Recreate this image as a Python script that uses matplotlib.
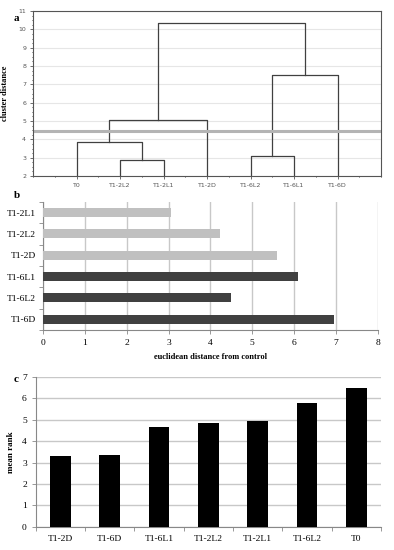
import numpy as np
import matplotlib.pyplot as plt

# panel a: dendrogram
leaves = ["T0", "T1-2L2", "T1-2L1", "T1-2D", "T1-6L2", "T1-6L1", "T1-6D"]
# merges: (left node, right node, height); new nodes numbered after the leaves
merges = [(1, 2, 2.85), (0, 7, 3.88), (8, 3, 5.05), (4, 5, 3.1), (10, 6, 7.5), (9, 11, 10.35)]
cut_height = 4.45

# panel b
b_labels = ["T1-2L1", "T1-2L2", "T1-2D", "T1-6L1", "T1-6L2", "T1-6D"]
b_values = [3.05, 4.22, 5.58, 6.1, 4.5, 6.95]
b_colors = ["#c0c0c0", "#c0c0c0", "#c0c0c0", "#404040", "#404040", "#404040"]

# panel c
c_labels = ["T1-2D", "T1-6D", "T1-6L1", "T1-2L2", "T1-2L1", "T1-6L2", "T0"]
c_values = [3.33, 3.36, 4.65, 4.85, 4.95, 5.8, 6.5]

serif = "Liberation Serif"
fig = plt.figure(figsize=(3.94, 5.5), dpi=100)

# --- a ---
ax = fig.add_axes([0.084, 0.68, 0.883, 0.30])
xs = {i: i + 1 for i in range(len(leaves))}
ys = {i: 2.0 for i in range(len(leaves))}
for k, (l, r, h) in enumerate(merges):
    ax.plot([xs[l], xs[l], xs[r], xs[r]], [ys[l], h, h, ys[r]], color="#404040", lw=0.9)
    node = len(leaves) + k
    xs[node] = (xs[l] + xs[r]) / 2
    ys[node] = h
ax.axhline(cut_height, color="#b4b4b4", lw=2.2)
ax.set_xlim(0, 8)
ax.set_ylim(2, 11)
ax.set_yticks(range(2, 12))
ax.set_yticks(np.arange(2, 11.01, 0.25), minor=True)
ax.set_xticks(range(1, 8))
ax.set_xticklabels(leaves)
ax.set_xticks(np.arange(0, 8.01, 0.5), minor=True)
ax.grid(axis="y", color="#e6e6e6", lw=0.8)
ax.set_axisbelow(True)
ax.tick_params(labelsize=4.5, length=2, width=0.6, pad=3, colors="#555555")
ax.tick_params(which="minor", length=1, width=0.5)
for s in ax.spines.values():
    s.set_linewidth(0.8)
    s.set_color("#555555")
ax.set_ylabel("cluster distance", family=serif, fontsize=6, fontweight="bold", labelpad=7)
fig.text(0.035, 0.975, "a", family=serif, fontsize=8, fontweight="bold", va="top")

# --- b ---
ax = fig.add_axes([0.109, 0.40, 0.85, 0.233])
pos = np.arange(len(b_labels))
ax.barh(pos, b_values, height=0.42, color=b_colors, zorder=3)
ax.set_ylim(len(b_labels) - 0.5, -0.5)
ax.set_xlim(0, 8)
ax.set_yticks(pos)
ax.set_yticklabels(b_labels)
ax.set_yticks(np.arange(-0.5, len(b_labels)), minor=True)
ax.set_xticks(range(0, 9))
ax.grid(axis="x", color="#c8c8c8", lw=1.0)
ax.tick_params(axis="y", which="major", length=0, pad=5)
ax.tick_params(axis="y", which="minor", length=3, width=0.6, color="#888888")
ax.tick_params(axis="x", length=3, width=0.6, color="#888888")
ax.tick_params(labelsize=6.8)
for lab in ax.get_xticklabels() + ax.get_yticklabels():
    lab.set_family(serif)
for s in ["top", "right"]:
    ax.spines[s].set_visible(False)
for s in ["left", "bottom"]:
    ax.spines[s].set_color("#888888")
    ax.spines[s].set_linewidth(0.8)
ax.set_xlabel("euclidean distance from control", family=serif, fontsize=6, fontweight="bold")
fig.text(0.035, 0.653, "b", family=serif, fontsize=8, fontweight="bold", va="top")

# --- c ---
ax = fig.add_axes([0.091, 0.042, 0.876, 0.2727])
pos = np.arange(len(c_labels))
ax.bar(pos, c_values, width=0.42, color="black", zorder=3)
ax.set_xlim(-0.5, len(c_labels) - 0.5)
ax.set_ylim(0, 7)
ax.set_xticks(pos)
ax.set_xticklabels(c_labels)
ax.set_xticks(np.arange(-0.5, len(c_labels)), minor=True)
ax.set_yticks(range(0, 8))
ax.grid(axis="y", color="#c8c8c8", lw=1.0)
ax.tick_params(axis="x", which="major", length=0, pad=6)
ax.tick_params(axis="x", which="minor", length=3, width=0.6, color="#888888")
ax.tick_params(axis="y", length=3, width=0.6, color="#888888")
ax.tick_params(labelsize=6.8)
for lab in ax.get_xticklabels() + ax.get_yticklabels():
    lab.set_family(serif)
for s in ["top", "right"]:
    ax.spines[s].set_visible(False)
for s in ["left", "bottom"]:
    ax.spines[s].set_color("#888888")
    ax.spines[s].set_linewidth(0.8)
ax.set_ylabel("mean rank", family=serif, fontsize=6.5, fontweight="bold", labelpad=5)
fig.text(0.035, 0.318, "c", family=serif, fontsize=8, fontweight="bold", va="top")

fig.savefig("out.png", dpi=100)
